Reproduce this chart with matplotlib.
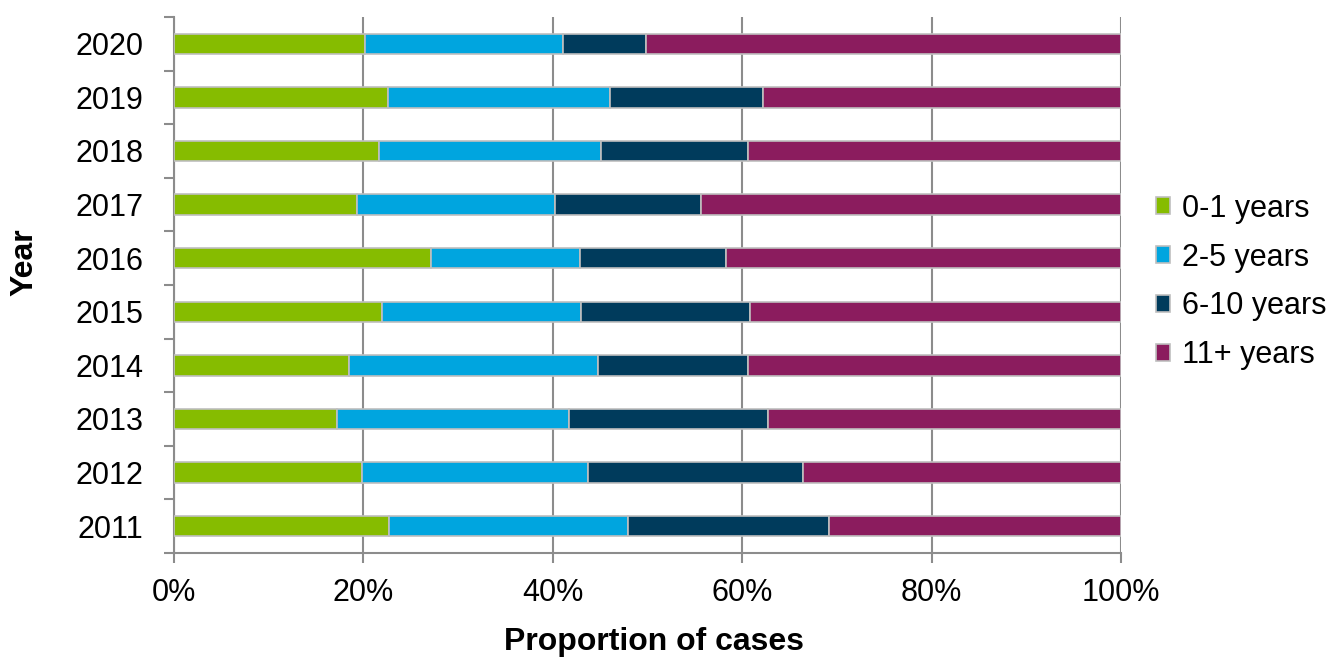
import matplotlib.pyplot as plt
import numpy as np

# share of cases by age group, percent of each year's total
years = ["2011", "2012", "2013", "2014", "2015", "2016", "2017", "2018", "2019", "2020"]
age_0_1 = [22.7, 19.9, 17.2, 18.5, 22.0, 27.1, 19.3, 21.7, 22.6, 20.2]
age_2_5 = [25.2, 23.8, 24.5, 26.3, 21.0, 15.8, 20.9, 23.4, 23.4, 20.9]
age_6_10 = [21.3, 22.7, 21.0, 15.8, 17.8, 15.4, 15.5, 15.5, 16.2, 8.7]
age_11_plus = [30.8, 33.6, 37.3, 39.4, 39.2, 41.7, 44.3, 39.4, 37.8, 50.2]

groups = ["0-1 years", "2-5 years", "6-10 years", "11+ years"]
colors = ["#86BC00", "#00A5DF", "#003B5C", "#8B1C5E"]
x_ticks = [0, 20, 40, 60, 80, 100]

plt.rcParams["font.family"] = ["Liberation Sans", "DejaVu Sans"]

W, H = 1335, 657
fig = plt.figure(figsize=(W / 100, H / 100), dpi=100)
ax = fig.add_axes([174 / W, 1 - 553 / H, (1121 - 174) / W, (553 - 17) / H])

y = np.arange(len(years))
left = np.zeros(len(years))
for vals, col, name in zip([age_0_1, age_2_5, age_6_10, age_11_plus], colors, groups):
    ax.barh(y, vals, left=left, height=0.38, color=col, edgecolor="#BFBFBF",
            linewidth=1.2, label=name, zorder=3)
    left += np.array(vals)

gray = "#8C8C8C"
ax.set_xlim(0, 100)
ax.set_ylim(-0.5, len(years) - 0.5)
ax.set_xticks(x_ticks)
ax.set_xticklabels([f"{t}%" for t in x_ticks], fontsize=22)
ax.xaxis.grid(True, color=gray, linewidth=1.5, zorder=0)
ax.set_yticks(y)
ax.set_yticklabels(years, fontsize=22)
ax.set_yticks(np.arange(-0.5, len(years)), minor=True)
ax.tick_params(axis="y", which="major", length=0, pad=22)
ax.tick_params(axis="y", which="minor", length=7, width=1.5, color=gray)
ax.tick_params(axis="x", length=7, width=1.5, color=gray, pad=11)

for side in ["top", "right"]:
    ax.spines[side].set_visible(False)
for side in ["left", "bottom"]:
    ax.spines[side].set_color(gray)
    ax.spines[side].set_linewidth(1.5)

fig.text(654 / W, 1 - 642 / H, "Proportion of cases", fontsize=23,
         fontweight="bold", ha="center", va="center")
fig.text(24 / W, 1 - 262 / H, "Year", fontsize=23, fontweight="bold",
         rotation=90, ha="center", va="center")

fig.legend(loc="center left", bbox_to_anchor=(1156 / W, 1 - 282 / H), frameon=False,
           fontsize=22, handlelength=0.45, handleheight=0.45,
           handletextpad=0.4, labelspacing=0.62, borderpad=0, borderaxespad=0)

fig.savefig("out.png", dpi=100)
